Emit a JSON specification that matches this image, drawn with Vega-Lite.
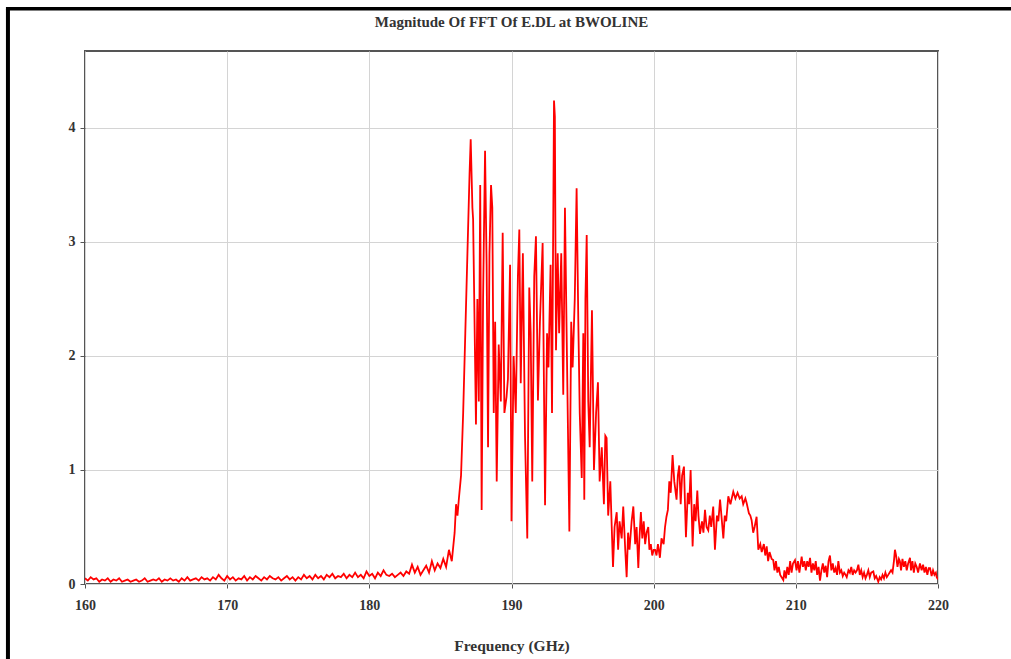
{
  "$schema": "https://vega.github.io/schema/vega-lite/v6.json",
  "autosize": "none",
  "width": 853,
  "height": 533,
  "padding": {"left": 85, "top": 51, "right": 73, "bottom": 75},
  "background": "#ffffff",
  "title": {
    "text": "Magnitude Of FFT Of E.DL at BWOLINE",
    "font": "Liberation Serif",
    "fontSize": 15,
    "fontWeight": "bold",
    "color": "#333333",
    "anchor": "middle",
    "offset": -23
  },
  "config": {
    "view": {"stroke": "#555555", "strokeWidth": 2},
    "axis": {
      "labelFont": "Liberation Serif",
      "labelFontSize": 14,
      "labelFontWeight": "bold",
      "labelColor": "#333333",
      "titleFont": "Liberation Serif",
      "titleFontSize": 15.5,
      "titleFontWeight": "bold",
      "titleColor": "#333333",
      "gridColor": "#d4d4d4",
      "gridWidth": 1,
      "tickColor": "#555555",
      "domain": false
    }
  },
  "layer": [
    {
      "data": {
        "values": [
          {"f":160.0,"m":0.05},{"f":160.2,"m":0.03},{"f":160.4,"m":0.06},{"f":160.6,"m":0.04},{"f":160.8,"m":0.05},
          {"f":161.0,"m":0.02},{"f":161.2,"m":0.04},{"f":161.4,"m":0.03},{"f":161.6,"m":0.05},{"f":161.8,"m":0.02},
          {"f":162.0,"m":0.04},{"f":162.2,"m":0.03},{"f":162.4,"m":0.05},{"f":162.6,"m":0.02},{"f":162.8,"m":0.03},
          {"f":163.0,"m":0.04},{"f":163.2,"m":0.02},{"f":163.4,"m":0.03},{"f":163.6,"m":0.04},{"f":163.8,"m":0.02},
          {"f":164.0,"m":0.03},{"f":164.2,"m":0.05},{"f":164.4,"m":0.02},{"f":164.6,"m":0.03},{"f":164.8,"m":0.04},
          {"f":165.0,"m":0.03},{"f":165.2,"m":0.05},{"f":165.4,"m":0.02},{"f":165.6,"m":0.04},{"f":165.8,"m":0.03},
          {"f":166.0,"m":0.05},{"f":166.2,"m":0.03},{"f":166.4,"m":0.04},{"f":166.6,"m":0.02},{"f":166.8,"m":0.05},
          {"f":167.0,"m":0.03},{"f":167.2,"m":0.06},{"f":167.4,"m":0.03},{"f":167.6,"m":0.04},{"f":167.8,"m":0.05},
          {"f":168.0,"m":0.03},{"f":168.2,"m":0.06},{"f":168.4,"m":0.04},{"f":168.6,"m":0.05},{"f":168.8,"m":0.03},
          {"f":169.0,"m":0.06},{"f":169.2,"m":0.04},{"f":169.4,"m":0.08},{"f":169.6,"m":0.05},{"f":169.8,"m":0.03},
          {"f":170.0,"m":0.07},{"f":170.2,"m":0.04},{"f":170.4,"m":0.06},{"f":170.6,"m":0.03},{"f":170.8,"m":0.05},
          {"f":171.0,"m":0.04},{"f":171.2,"m":0.07},{"f":171.4,"m":0.03},{"f":171.6,"m":0.06},{"f":171.8,"m":0.04},
          {"f":172.0,"m":0.07},{"f":172.2,"m":0.05},{"f":172.4,"m":0.03},{"f":172.6,"m":0.06},{"f":172.8,"m":0.04},
          {"f":173.0,"m":0.07},{"f":173.2,"m":0.05},{"f":173.4,"m":0.04},{"f":173.6,"m":0.06},{"f":173.8,"m":0.03},
          {"f":174.0,"m":0.05},{"f":174.2,"m":0.07},{"f":174.4,"m":0.04},{"f":174.6,"m":0.06},{"f":174.8,"m":0.03},
          {"f":175.0,"m":0.06},{"f":175.2,"m":0.04},{"f":175.4,"m":0.08},{"f":175.6,"m":0.05},{"f":175.8,"m":0.07},
          {"f":176.0,"m":0.04},{"f":176.2,"m":0.08},{"f":176.4,"m":0.05},{"f":176.6,"m":0.07},{"f":176.8,"m":0.04},
          {"f":177.0,"m":0.08},{"f":177.2,"m":0.06},{"f":177.4,"m":0.09},{"f":177.6,"m":0.05},{"f":177.8,"m":0.07},
          {"f":178.0,"m":0.06},{"f":178.2,"m":0.09},{"f":178.4,"m":0.05},{"f":178.6,"m":0.08},{"f":178.8,"m":0.06},
          {"f":179.0,"m":0.1},{"f":179.2,"m":0.06},{"f":179.4,"m":0.08},{"f":179.6,"m":0.05},{"f":179.8,"m":0.11},
          {"f":180.0,"m":0.07},{"f":180.2,"m":0.09},{"f":180.4,"m":0.05},{"f":180.6,"m":0.1},{"f":180.8,"m":0.07},
          {"f":181.0,"m":0.12},{"f":181.2,"m":0.08},{"f":181.4,"m":0.07},{"f":181.6,"m":0.09},{"f":181.8,"m":0.06},
          {"f":182.0,"m":0.08},{"f":182.2,"m":0.1},{"f":182.4,"m":0.07},{"f":182.6,"m":0.11},{"f":182.8,"m":0.09},
          {"f":183.0,"m":0.17},{"f":183.2,"m":0.1},{"f":183.4,"m":0.15},{"f":183.6,"m":0.08},{"f":183.8,"m":0.12},
          {"f":184.0,"m":0.16},{"f":184.2,"m":0.1},{"f":184.4,"m":0.2},{"f":184.6,"m":0.12},{"f":184.8,"m":0.18},
          {"f":185.0,"m":0.14},{"f":185.2,"m":0.22},{"f":185.4,"m":0.15},{"f":185.6,"m":0.3},{"f":185.8,"m":0.2},
          {"f":186.0,"m":0.45},{"f":186.1,"m":0.7},{"f":186.2,"m":0.6},{"f":186.3,"m":0.75},{"f":186.45,"m":0.95},
          {"f":186.6,"m":1.5},{"f":186.75,"m":2.2},{"f":186.9,"m":2.9},{"f":187.05,"m":3.6},{"f":187.13,"m":3.9},
          {"f":187.25,"m":3.3},{"f":187.3,"m":3.2},{"f":187.5,"m":1.4},{"f":187.6,"m":2.5},{"f":187.7,"m":1.6},
          {"f":187.8,"m":3.5},{"f":187.9,"m":0.65},{"f":188.0,"m":2.5},{"f":188.14,"m":3.8},{"f":188.25,"m":2.8},
          {"f":188.35,"m":1.2},{"f":188.45,"m":2.9},{"f":188.56,"m":3.5},{"f":188.65,"m":3.3},{"f":188.75,"m":1.5},
          {"f":188.85,"m":2.3},{"f":188.96,"m":0.9},{"f":189.1,"m":2.1},{"f":189.25,"m":1.6},{"f":189.38,"m":3.08},
          {"f":189.5,"m":1.5},{"f":189.65,"m":1.64},{"f":189.75,"m":1.8},{"f":189.9,"m":2.8},{"f":190.0,"m":0.55},
          {"f":190.15,"m":2.0},{"f":190.3,"m":1.5},{"f":190.45,"m":2.7},{"f":190.55,"m":3.11},{"f":190.65,"m":1.76},
          {"f":190.8,"m":2.9},{"f":190.95,"m":1.3},{"f":191.11,"m":0.4},{"f":191.25,"m":2.6},{"f":191.35,"m":2.2},
          {"f":191.46,"m":0.9},{"f":191.6,"m":2.7},{"f":191.72,"m":3.05},{"f":191.86,"m":1.61},{"f":192.0,"m":2.3},
          {"f":192.19,"m":2.99},{"f":192.36,"m":0.69},{"f":192.5,"m":2.2},{"f":192.6,"m":1.9},{"f":192.75,"m":2.8},
          {"f":192.85,"m":1.5},{"f":192.99,"m":4.24},{"f":193.05,"m":4.1},{"f":193.13,"m":2.05},{"f":193.25,"m":2.9},
          {"f":193.35,"m":2.2},{"f":193.5,"m":2.9},{"f":193.64,"m":1.66},{"f":193.76,"m":3.3},{"f":193.9,"m":2.0},
          {"f":194.07,"m":0.46},{"f":194.2,"m":2.3},{"f":194.3,"m":1.9},{"f":194.45,"m":2.5},{"f":194.58,"m":3.47},
          {"f":194.7,"m":2.3},{"f":194.8,"m":1.5},{"f":194.94,"m":0.93},{"f":195.05,"m":2.2},{"f":195.12,"m":0.74},
          {"f":195.2,"m":2.5},{"f":195.29,"m":3.06},{"f":195.4,"m":1.6},{"f":195.5,"m":1.2},{"f":195.66,"m":2.4},
          {"f":195.8,"m":1.0},{"f":195.95,"m":1.5},{"f":196.08,"m":1.77},{"f":196.2,"m":0.9},{"f":196.35,"m":1.2},
          {"f":196.5,"m":0.7},{"f":196.6,"m":1.3},{"f":196.69,"m":1.28},{"f":196.8,"m":0.6},{"f":196.95,"m":0.9},
          {"f":197.05,"m":0.5},{"f":197.14,"m":0.15},{"f":197.25,"m":0.5},{"f":197.4,"m":0.63},{"f":197.5,"m":0.3},
          {"f":197.6,"m":0.55},{"f":197.75,"m":0.4},{"f":197.86,"m":0.68},{"f":198.0,"m":0.3},{"f":198.1,"m":0.06},
          {"f":198.2,"m":0.45},{"f":198.3,"m":0.3},{"f":198.45,"m":0.55},{"f":198.57,"m":0.68},{"f":198.7,"m":0.35},
          {"f":198.8,"m":0.5},{"f":198.92,"m":0.14},{"f":199.0,"m":0.4},{"f":199.1,"m":0.63},{"f":199.2,"m":0.4},
          {"f":199.3,"m":0.55},{"f":199.4,"m":0.35},{"f":199.5,"m":0.45},{"f":199.62,"m":0.5},{"f":199.7,"m":0.3},
          {"f":199.8,"m":0.35},{"f":199.9,"m":0.25},{"f":200.0,"m":0.3},{"f":200.1,"m":0.3},{"f":200.2,"m":0.25},
          {"f":200.3,"m":0.35},{"f":200.44,"m":0.23},{"f":200.55,"m":0.4},{"f":200.7,"m":0.35},{"f":200.8,"m":0.5},
          {"f":200.9,"m":0.59},{"f":201.0,"m":0.65},{"f":201.1,"m":0.9},{"f":201.2,"m":0.8},{"f":201.33,"m":1.13},
          {"f":201.45,"m":0.9},{"f":201.61,"m":0.74},{"f":201.7,"m":0.95},{"f":201.8,"m":1.04},{"f":201.9,"m":0.7},
          {"f":202.0,"m":0.95},{"f":202.13,"m":1.03},{"f":202.27,"m":0.41},{"f":202.4,"m":0.8},{"f":202.5,"m":0.7},
          {"f":202.6,"m":1.0},{"f":202.74,"m":0.33},{"f":202.85,"m":0.7},{"f":202.95,"m":0.55},{"f":203.07,"m":0.82},
          {"f":203.15,"m":0.6},{"f":203.26,"m":0.44},{"f":203.4,"m":0.55},{"f":203.5,"m":0.45},{"f":203.61,"m":0.65},
          {"f":203.72,"m":0.5},{"f":203.84,"m":0.47},{"f":203.95,"m":0.6},{"f":204.05,"m":0.5},{"f":204.19,"m":0.68},
          {"f":204.31,"m":0.3},{"f":204.45,"m":0.6},{"f":204.55,"m":0.55},{"f":204.67,"m":0.74},{"f":204.8,"m":0.55},
          {"f":204.9,"m":0.4},{"f":205.0,"m":0.6},{"f":205.1,"m":0.55},{"f":205.25,"m":0.77},{"f":205.4,"m":0.7},
          {"f":205.6,"m":0.81},{"f":205.75,"m":0.75},{"f":205.9,"m":0.8},{"f":206.05,"m":0.75},{"f":206.19,"m":0.77},
          {"f":206.3,"m":0.7},{"f":206.45,"m":0.75},{"f":206.54,"m":0.71},{"f":206.7,"m":0.62},{"f":206.8,"m":0.6},
          {"f":206.89,"m":0.56},{"f":207.0,"m":0.45},{"f":207.1,"m":0.5},{"f":207.24,"m":0.59},{"f":207.36,"m":0.3},
          {"f":207.5,"m":0.35},{"f":207.6,"m":0.28},{"f":207.75,"m":0.35},{"f":207.85,"m":0.25},{"f":207.95,"m":0.33},
          {"f":208.05,"m":0.2},{"f":208.15,"m":0.28},{"f":208.3,"m":0.22},{"f":208.41,"m":0.21},{"f":208.5,"m":0.12},
          {"f":208.6,"m":0.2},{"f":208.7,"m":0.1},{"f":208.8,"m":0.15},{"f":208.9,"m":0.08},{"f":209.0,"m":0.06},
          {"f":209.12,"m":0.035},{"f":209.2,"m":0.12},{"f":209.3,"m":0.05},{"f":209.4,"m":0.15},{"f":209.5,"m":0.08},
          {"f":209.6,"m":0.2},{"f":209.7,"m":0.1},{"f":209.8,"m":0.18},{"f":209.94,"m":0.21},{"f":210.05,"m":0.12},
          {"f":210.15,"m":0.2},{"f":210.25,"m":0.1},{"f":210.41,"m":0.24},{"f":210.5,"m":0.15},{"f":210.6,"m":0.2},
          {"f":210.7,"m":0.12},{"f":210.8,"m":0.2},{"f":210.9,"m":0.15},{"f":211.0,"m":0.23},{"f":211.1,"m":0.1},
          {"f":211.2,"m":0.18},{"f":211.3,"m":0.12},{"f":211.4,"m":0.2},{"f":211.5,"m":0.08},{"f":211.6,"m":0.15},
          {"f":211.7,"m":0.03},{"f":211.8,"m":0.12},{"f":211.9,"m":0.18},{"f":212.0,"m":0.1},{"f":212.1,"m":0.16},
          {"f":212.2,"m":0.06},{"f":212.3,"m":0.2},{"f":212.4,"m":0.25},{"f":212.5,"m":0.12},{"f":212.6,"m":0.18},
          {"f":212.7,"m":0.1},{"f":212.8,"m":0.14},{"f":212.9,"m":0.08},{"f":212.99,"m":0.2},{"f":213.1,"m":0.1},
          {"f":213.2,"m":0.12},{"f":213.3,"m":0.07},{"f":213.4,"m":0.1},{"f":213.5,"m":0.08},{"f":213.58,"m":0.06},
          {"f":213.7,"m":0.12},{"f":213.8,"m":0.1},{"f":213.9,"m":0.15},{"f":214.0,"m":0.08},{"f":214.1,"m":0.12},
          {"f":214.2,"m":0.1},{"f":214.3,"m":0.12},{"f":214.4,"m":0.17},{"f":214.5,"m":0.08},{"f":214.6,"m":0.12},
          {"f":214.7,"m":0.06},{"f":214.8,"m":0.1},{"f":214.9,"m":0.05},{"f":215.0,"m":0.08},{"f":215.1,"m":0.12},
          {"f":215.2,"m":0.06},{"f":215.3,"m":0.1},{"f":215.45,"m":0.11},{"f":215.55,"m":0.05},{"f":215.65,"m":0.07},
          {"f":215.8,"m":0.02},{"f":215.9,"m":0.06},{"f":216.0,"m":0.04},{"f":216.1,"m":0.08},{"f":216.2,"m":0.05},
          {"f":216.3,"m":0.1},{"f":216.4,"m":0.06},{"f":216.5,"m":0.08},{"f":216.6,"m":0.1},{"f":216.7,"m":0.12},
          {"f":216.8,"m":0.1},{"f":216.9,"m":0.2},{"f":216.97,"m":0.3},{"f":217.05,"m":0.25},{"f":217.15,"m":0.15},
          {"f":217.25,"m":0.22},{"f":217.32,"m":0.2},{"f":217.4,"m":0.12},{"f":217.5,"m":0.22},{"f":217.6,"m":0.15},
          {"f":217.7,"m":0.2},{"f":217.8,"m":0.12},{"f":217.9,"m":0.18},{"f":218.03,"m":0.23},{"f":218.1,"m":0.12},
          {"f":218.2,"m":0.2},{"f":218.3,"m":0.1},{"f":218.4,"m":0.18},{"f":218.5,"m":0.15},{"f":218.6,"m":0.1},
          {"f":218.73,"m":0.18},{"f":218.85,"m":0.12},{"f":218.95,"m":0.17},{"f":219.05,"m":0.1},{"f":219.15,"m":0.15},
          {"f":219.25,"m":0.08},{"f":219.35,"m":0.14},{"f":219.44,"m":0.14},{"f":219.55,"m":0.07},{"f":219.65,"m":0.12},
          {"f":219.75,"m":0.08},{"f":219.85,"m":0.1},{"f":219.91,"m":0.06},{"f":220.0,"m":0.04}
        ]
      },
      "mark": {"type": "line", "color": "#ff0000", "strokeWidth": 1.8, "clip": true},
      "encoding": {
        "x": {
          "field": "f",
          "type": "quantitative",
          "scale": {"domain": [160, 220], "nice": false, "zero": false},
          "axis": {
            "title": "Frequency (GHz)",
            "values": [160, 170, 180, 190, 200, 210, 220],
            "format": "d",
            "tickSize": 4,
            "labelPadding": 10,
            "titlePadding": 26,
            "labelFlush": false
          }
        },
        "y": {
          "field": "m",
          "type": "quantitative",
          "scale": {"domain": [0, 4.675], "nice": false},
          "axis": {
            "title": null,
            "values": [0, 1, 2, 3, 4],
            "format": "d",
            "tickSize": 5,
            "labelPadding": 5,
            "labelFlush": false
          }
        }
      }
    },
    {
      "data": {"values": [{}]},
      "mark": {"type": "rule", "color": "#000000", "strokeWidth": 4},
      "encoding": {
        "x": {"datum": 154.58, "type": "quantitative"},
        "y": {"datum": -0.7, "type": "quantitative"},
        "y2": {"datum": 5.046}
      }
    },
    {
      "data": {"values": [{}]},
      "mark": {"type": "rule", "color": "#000000", "strokeWidth": 3.5},
      "encoding": {
        "x": {"datum": 154.44, "type": "quantitative"},
        "x2": {"datum": 226},
        "y": {"datum": 5.046, "type": "quantitative"}
      }
    }
  ]
}
